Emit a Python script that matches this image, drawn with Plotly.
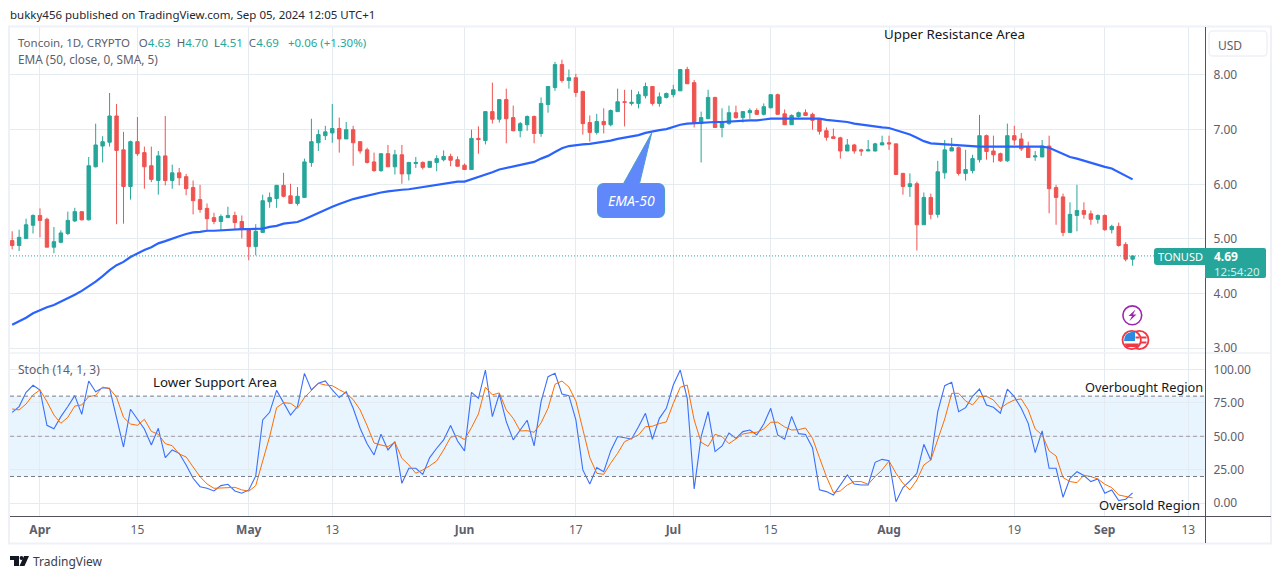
import pandas as pd
import plotly.graph_objects as go

W = 1281
H = 579

dates = pd.date_range('2024-03-28', periods=162, freq='D')

opens = [
    4.97, 4.88, 5.01, 5.25, 5.43, 5.36, 4.85, 4.94, 5.10, 5.33,
    5.50, 5.35, 6.32, 6.70, 6.77, 7.25, 6.63, 5.96, 6.78, 6.58,
    6.34, 6.07, 6.52, 6.07, 6.21, 6.14, 5.94, 5.72, 5.56, 5.39,
    5.32, 5.39, 5.43, 5.32, 5.17, 4.86, 5.12, 5.68, 5.74, 5.98,
    5.79, 5.65, 5.76, 6.40, 6.76, 6.89, 6.94, 7.02, 6.83, 7.00,
    6.78, 6.63, 6.41, 6.25, 6.56, 6.32, 6.54, 6.19, 6.38, 6.40,
    6.31, 6.40, 6.45, 6.51, 6.45, 6.35, 6.27, 6.84, 6.80, 7.33,
    7.19, 7.55, 7.22, 6.98, 7.09, 7.24, 6.93, 7.46, 7.77, 8.19,
    7.90, 7.95, 7.70, 7.13, 6.95, 7.15, 7.09, 7.33, 7.51, 7.48,
    7.48, 7.62, 7.79, 7.48, 7.59, 7.64, 7.71, 8.10, 7.86, 7.11,
    7.20, 7.59, 7.04, 7.11, 7.31, 7.22, 7.31, 7.35, 7.28, 7.40,
    7.64, 7.29, 7.09, 7.24, 7.31, 7.28, 7.20, 6.98, 6.87, 6.85,
    6.61, 6.72, 6.63, 6.61, 6.61, 6.72, 6.76, 6.74, 6.20, 5.96,
    6.01, 5.26, 5.76, 5.45, 6.21, 6.61, 6.67, 6.20, 6.25, 6.45,
    6.89, 6.61, 6.56, 6.43, 6.89, 6.83, 6.67, 6.50, 6.50, 6.70,
    5.94, 5.77, 5.12, 5.43, 5.52, 5.46, 5.36, 5.43, 5.17, 5.23,
    4.90, 4.63,
]
highs = [
    5.14, 5.17, 5.37, 5.45, 5.56, 5.39, 5.22, 5.16, 5.50, 5.57,
    5.50, 6.50, 7.11, 6.88, 7.67, 7.47, 6.96, 6.80, 7.23, 6.69,
    6.69, 6.61, 7.25, 6.36, 6.30, 6.19, 6.07, 5.99, 5.65, 5.48,
    5.45, 5.59, 5.50, 5.43, 5.17, 5.27, 5.81, 5.85, 5.99, 6.21,
    6.01, 5.95, 6.47, 7.20, 7.00, 7.07, 7.47, 7.22, 7.14, 7.07,
    6.78, 6.67, 6.58, 6.56, 6.72, 6.63, 6.72, 6.41, 6.50, 6.42,
    6.42, 6.53, 6.62, 6.56, 6.51, 6.38, 7.00, 7.06, 7.33, 7.86,
    7.56, 7.75, 7.44, 7.14, 7.26, 7.26, 7.59, 7.79, 8.24, 8.28,
    8.10, 8.02, 7.71, 7.26, 7.29, 7.39, 7.37, 7.75, 7.73, 7.73,
    7.70, 7.86, 7.79, 7.68, 7.68, 7.82, 8.11, 8.15, 7.91, 7.33,
    7.73, 7.60, 7.39, 7.44, 7.44, 7.33, 7.39, 7.39, 7.48, 7.64,
    7.66, 7.37, 7.28, 7.33, 7.37, 7.31, 7.20, 7.04, 7.02, 6.87,
    6.83, 6.74, 6.65, 6.81, 6.76, 6.89, 6.89, 6.74, 6.21, 6.20,
    6.05, 5.85, 5.83, 6.43, 6.81, 6.85, 6.69, 6.63, 6.54, 7.27,
    6.91, 6.89, 6.58, 7.11, 7.07, 6.94, 6.78, 6.61, 6.81, 6.89,
    5.99, 5.83, 5.67, 5.99, 5.67, 5.52, 5.45, 5.45, 5.26, 5.30,
    4.94, 4.70,
]
lows = [
    4.81, 4.78, 5.01, 5.10, 5.03, 4.85, 4.74, 4.92, 5.07, 5.31,
    5.34, 5.34, 6.31, 6.40, 6.69, 5.27, 5.28, 5.72, 6.52, 5.92,
    6.04, 5.81, 5.98, 5.92, 5.98, 5.80, 5.45, 5.48, 5.14, 5.27,
    5.16, 5.39, 5.17, 5.01, 4.61, 4.70, 5.12, 5.57, 5.57, 5.76,
    5.65, 5.61, 5.76, 6.32, 6.61, 6.81, 6.76, 6.58, 6.83, 6.34,
    6.56, 6.38, 6.23, 6.23, 6.32, 6.18, 6.01, 6.07, 6.30, 6.27,
    6.31, 6.24, 6.42, 6.33, 6.33, 6.27, 6.27, 6.56, 6.73, 7.11,
    7.13, 6.75, 6.97, 6.86, 6.98, 6.75, 6.87, 7.31, 7.71, 7.86,
    7.75, 7.60, 6.91, 6.78, 6.91, 6.93, 7.06, 7.33, 7.06, 7.44,
    7.39, 7.57, 7.44, 7.42, 7.57, 7.59, 7.71, 7.84, 7.04, 6.40,
    7.20, 7.04, 6.86, 7.09, 7.20, 7.13, 7.20, 7.27, 7.26, 7.39,
    7.28, 7.09, 7.09, 7.22, 7.26, 7.00, 6.91, 6.80, 6.84, 6.47,
    6.61, 6.56, 6.52, 6.61, 6.60, 6.72, 6.63, 6.18, 5.81, 5.77,
    4.79, 5.26, 5.36, 5.39, 6.10, 6.61, 6.16, 6.07, 6.20, 6.40,
    6.45, 6.40, 6.41, 6.41, 6.72, 6.61, 6.49, 6.43, 6.50, 5.47,
    5.26, 5.05, 5.12, 5.14, 5.37, 5.26, 5.28, 5.15, 5.10, 4.86,
    4.59, 4.51,
]
closes = [
    4.88, 5.03, 5.26, 5.43, 5.34, 4.85, 4.95, 5.11, 5.34, 5.50,
    5.35, 6.34, 6.72, 6.78, 7.25, 6.62, 5.96, 6.78, 6.56, 6.32,
    6.09, 6.52, 6.07, 6.21, 6.12, 5.92, 5.70, 5.54, 5.37, 5.32,
    5.41, 5.43, 5.30, 5.17, 4.86, 5.14, 5.70, 5.76, 5.98, 5.78,
    5.65, 5.78, 6.41, 6.78, 6.91, 6.96, 7.02, 6.83, 7.00, 6.76,
    6.61, 6.40, 6.25, 6.56, 6.32, 6.54, 6.19, 6.40, 6.40, 6.31,
    6.42, 6.47, 6.51, 6.44, 6.33, 6.27, 6.84, 6.82, 7.33, 7.19,
    7.55, 7.20, 6.98, 7.11, 7.24, 6.93, 7.48, 7.79, 8.19, 7.90,
    7.95, 7.68, 7.11, 6.95, 7.15, 7.09, 7.35, 7.51, 7.50, 7.50,
    7.64, 7.79, 7.48, 7.60, 7.66, 7.73, 8.10, 7.84, 7.11, 7.22,
    7.59, 7.04, 7.13, 7.31, 7.22, 7.33, 7.35, 7.28, 7.42, 7.64,
    7.28, 7.09, 7.26, 7.31, 7.26, 7.17, 6.97, 6.86, 6.84, 6.61,
    6.72, 6.61, 6.61, 6.63, 6.74, 6.76, 6.74, 6.18, 5.96, 6.01,
    5.26, 5.76, 5.45, 6.23, 6.63, 6.67, 6.20, 6.27, 6.47, 6.89,
    6.60, 6.54, 6.43, 6.89, 6.81, 6.65, 6.49, 6.52, 6.70, 5.92,
    5.76, 5.12, 5.45, 5.52, 5.45, 5.36, 5.43, 5.17, 5.23, 4.88,
    4.63, 4.69,
]
ema_50 = [
    3.43, 3.49, 3.56, 3.64, 3.70, 3.75, 3.79, 3.85, 3.91, 3.98,
    4.05, 4.13, 4.22, 4.32, 4.43, 4.52, 4.58, 4.67, 4.74, 4.80,
    4.85, 4.92, 4.96, 5.01, 5.05, 5.09, 5.12, 5.13, 5.15, 5.15,
    5.16, 5.17, 5.18, 5.18, 5.18, 5.18, 5.19, 5.22, 5.24, 5.28,
    5.29, 5.31, 5.36, 5.42, 5.48, 5.54, 5.59, 5.64, 5.69, 5.73,
    5.76, 5.79, 5.83, 5.85, 5.87, 5.89, 5.90, 5.91, 5.93, 5.96,
    5.98, 6.00, 6.02, 6.03, 6.05, 6.05, 6.09, 6.13, 6.18, 6.22,
    6.27, 6.30, 6.33, 6.36, 6.39, 6.41, 6.47, 6.52, 6.59, 6.66,
    6.70, 6.72, 6.73, 6.74, 6.76, 6.77, 6.80, 6.83, 6.85, 6.87,
    6.90, 6.94, 6.97, 6.99, 7.01, 7.05, 7.09, 7.11, 7.12, 7.12,
    7.13, 7.14, 7.14, 7.15, 7.15, 7.16, 7.17, 7.17, 7.19, 7.20,
    7.20, 7.20, 7.20, 7.20, 7.20, 7.20, 7.20, 7.18, 7.17, 7.16,
    7.14, 7.11, 7.09, 7.07, 7.05, 7.04, 7.03, 6.99, 6.95, 6.91,
    6.85, 6.79, 6.75, 6.74, 6.73, 6.72, 6.71, 6.70, 6.69, 6.69,
    6.69, 6.69, 6.69, 6.69, 6.69, 6.69, 6.69, 6.69, 6.69, 6.67,
    6.61, 6.55, 6.50, 6.47, 6.43, 6.40, 6.36, 6.32, 6.29, 6.22,
    6.15, 6.09,
]
stoch_k = [
    67.9, 72.2, 82.8, 88.1, 84.6, 58.2, 55.7, 64.7, 72.2, 80.4,
    66.4, 91.3, 83.3, 86.3, 85.8, 64.7, 42.0, 70.2, 62.9, 55.5,
    43.5, 56.0, 34.1, 39.8, 37.3, 28.6, 18.7, 12.4, 11.2, 9.2,
    13.2, 14.2, 9.2, 7.5, 10.0, 20.4, 62.2, 67.9, 84.3, 74.6,
    65.9, 72.2, 97.0, 84.6, 89.6, 91.3, 84.6, 78.9, 83.3, 70.9,
    56.0, 44.5, 36.1, 51.5, 39.8, 46.0, 14.9, 26.1, 26.1, 21.6,
    34.1, 41.1, 47.3, 58.0, 46.5, 39.1, 82.8, 78.4, 99.5, 64.7,
    81.6, 61.0, 47.3, 54.7, 62.0, 42.8, 75.9, 94.5, 97.0, 81.6,
    80.4, 62.2, 24.9, 14.4, 26.6, 23.6, 39.1, 49.8, 48.8, 48.0,
    57.2, 67.2, 47.8, 63.4, 70.9, 88.3, 99.5, 78.4, 10.7, 49.8,
    68.4, 38.6, 42.8, 52.5, 48.5, 53.5, 54.7, 51.0, 59.2, 70.9,
    51.0, 47.8, 64.9, 52.0, 51.3, 41.5, 10.0, 8.7, 6.2, 13.7,
    21.1, 14.4, 13.7, 13.7, 30.6, 32.8, 31.8, 1.2, 11.7, 16.7,
    22.4, 44.0, 32.1, 68.4, 87.8, 90.3, 68.4, 71.4, 79.9, 85.3,
    73.4, 71.7, 67.2, 85.3, 79.6, 70.9, 59.7, 37.8, 54.0, 26.1,
    26.1, 4.5, 18.7, 23.6, 20.7, 16.2, 18.2, 7.5, 10.0, 2.0,
    3.0, 7.7,
]
stoch_d = [
    70.4, 69.7, 74.1, 80.9, 84.6, 75.9, 65.9, 59.7, 64.2, 72.6,
    73.4, 79.6, 80.6, 86.8, 85.6, 79.1, 64.2, 59.2, 58.2, 62.7,
    53.7, 51.5, 44.5, 43.0, 36.8, 34.6, 27.1, 19.9, 14.4, 11.2,
    11.4, 11.9, 11.9, 10.0, 9.0, 13.2, 31.1, 49.8, 71.4, 75.1,
    74.6, 70.9, 78.9, 84.6, 89.6, 88.3, 87.8, 84.8, 82.1, 77.4,
    69.7, 58.0, 45.0, 43.5, 42.3, 45.5, 33.6, 28.6, 22.4, 24.9,
    27.9, 31.6, 39.8, 49.3, 50.5, 47.5, 56.5, 66.7, 86.6, 80.9,
    82.4, 69.7, 63.4, 54.0, 54.2, 53.0, 60.0, 70.9, 88.8, 91.3,
    86.8, 76.4, 56.0, 34.1, 22.4, 21.6, 29.9, 37.3, 46.0, 48.5,
    51.0, 57.2, 57.5, 59.5, 60.7, 74.6, 86.6, 88.3, 62.2, 45.5,
    42.5, 51.5, 49.8, 44.5, 48.0, 51.7, 52.7, 53.0, 55.5, 60.5,
    60.5, 57.0, 54.7, 55.0, 56.2, 48.5, 34.1, 19.9, 8.0, 9.2,
    13.7, 16.2, 16.2, 14.2, 19.9, 24.9, 31.6, 22.4, 14.9, 10.0,
    17.4, 28.6, 32.3, 48.5, 62.9, 82.1, 82.1, 76.4, 73.4, 79.6,
    79.9, 77.1, 70.9, 74.6, 77.1, 77.9, 69.7, 55.5, 51.0, 39.1,
    35.3, 19.2, 16.2, 15.4, 20.9, 19.9, 18.2, 14.2, 11.7, 6.2,
    5.0, 4.0,
]
for series in (opens, highs, lows, closes, ema_50, stoch_k, stoch_d):
    assert len(series) == len(dates), len(series)

tick_dates = ['2024-04-01', '2024-04-15', '2024-05-01', '2024-05-13', '2024-06-01', '2024-06-17',
              '2024-07-01', '2024-07-15', '2024-08-01', '2024-08-19', '2024-09-01', '2024-09-13']
tick_names = ['<b>Apr</b>', '15', '<b>May</b>', '13', '<b>Jun</b>', '17',
              '<b>Jul</b>', '15', '<b>Aug</b>', '19', '<b>Sep</b>', '13']
price_ticks = [3, 4, 5, 6, 7, 8]
stoch_ticks = [0, 25, 50, 75, 100]

FONT = 'Noto Sans'
UP = '#26a69a'
DOWN = '#ef5350'
GRID = '#e4ecf2'
FRAME = '#eef1f7'
AXIS = '#50535e'
TEXT = '#131722'
MUTED = '#5d606b'


def px(x):
    return x / W


def py(y):
    return 1 - y / H


def note(text, x, y, size=12, color=TEXT, anchor='left'):
    # annotations carry a small inner padding, so left-aligned text starts 2px late
    if anchor == 'left':
        x = x - 2
    return dict(text=text, x=px(x), y=py(y), xref='paper', yref='paper', xanchor=anchor, yanchor='middle',
                showarrow=False, font=dict(family=FONT, size=size, color=color), align=anchor)


def box(x0, y0, x1, y1, fill='rgba(0,0,0,0)', line=None, width=1):
    return dict(type='rect', xref='paper', yref='paper', x0=px(x0), y0=py(y0), x1=px(x1), y1=py(y1),
                fillcolor=fill, line=dict(color=line, width=width if line else 0))


def dot(cx, cy, r, fill, line, width=1.5):
    return dict(type='circle', xref='paper', yref='paper', x0=px(cx - r), x1=px(cx + r), y0=py(cy - r), y1=py(cy + r),
                fillcolor=fill, line=dict(color=line, width=width))


def outline(points, fill, line=None, width=1):
    parts = []
    for p in points:
        if len(p) == 2:
            parts.append(f'L{px(p[0])},{py(p[1])}')
        else:
            parts.append(f'Q{px(p[0])},{py(p[1])} {px(p[2])},{py(p[3])}')
    path = 'M' + ' '.join(parts)[1:] + ' Z'
    return dict(type='path', xref='paper', yref='paper', path=path, fillcolor=fill,
                line=dict(color=line, width=width if line else 0))


fig = go.Figure()
fig.add_trace(go.Candlestick(x=dates, open=opens, high=highs, low=lows, close=closes,
                             increasing=dict(line=dict(color=UP, width=1), fillcolor=UP),
                             decreasing=dict(line=dict(color=DOWN, width=1), fillcolor=DOWN),
                             whiskerwidth=0, xaxis='x', yaxis='y', showlegend=False))
fig.add_trace(go.Scatter(x=dates, y=ema_50, mode='lines', line=dict(color='#2962ff', width=2.2),
                         xaxis='x', yaxis='y', showlegend=False))
fig.add_trace(go.Scatter(x=dates, y=stoch_k, mode='lines', line=dict(color='#3a70fb', width=1.1),
                         xaxis='x', yaxis='y2', showlegend=False))
fig.add_trace(go.Scatter(x=dates, y=stoch_d, mode='lines', line=dict(color='#ff6d00', width=1),
                         xaxis='x', yaxis='y2', showlegend=False))

shapes = [
    # stochastic band
    dict(type='rect', xref='paper', yref='y2', x0=px(10), x1=px(1205), y0=20, y1=80,
         fillcolor='rgba(33,150,243,0.1)', line=dict(width=0), layer='below'),
    dict(type='line', xref='paper', yref='y2', x0=px(10), x1=px(1205), y0=80, y1=80,
         line=dict(color='#787b86', width=1, dash='4px,3px')),
    dict(type='line', xref='paper', yref='y2', x0=px(10), x1=px(1205), y0=50, y1=50,
         line=dict(color='#9a9ca5', width=1, dash='4px,3px')),
    dict(type='line', xref='paper', yref='y2', x0=px(10), x1=px(1205), y0=20, y1=20,
         line=dict(color='#787b86', width=1, dash='4px,3px')),
    # last price line
    dict(type='line', xref='paper', yref='y', x0=px(10), x1=px(1205), y0=closes[-1], y1=closes[-1],
         line=dict(color=UP, width=1, dash='1px,2px')),
    # frame and separators
    box(9, 26.5, 1271, 543.5, line=FRAME, width=2),
    dict(type='line', xref='paper', yref='paper', x0=px(10), x1=px(1270), y0=py(353), y1=py(353),
         line=dict(color='#e6e9ef', width=1)),
    dict(type='line', xref='paper', yref='paper', x0=px(10), x1=px(1271), y0=py(516.5), y1=py(516.5),
         line=dict(color=AXIS, width=1)),
    dict(type='line', xref='paper', yref='paper', x0=px(1205.5), x1=px(1205.5), y0=py(27), y1=py(543),
         line=dict(color=AXIS, width=1)),
    # USD button
    outline([(1213, 31), (1263, 31), (1267, 31, 1267, 35), (1267, 52), (1267, 56, 1263, 56), (1213, 56),
             (1209, 56, 1209, 52), (1209, 35), (1209, 31, 1213, 31)], 'white', FRAME, 1.5),
    # price tags
    outline([(1157, 248), (1205, 248), (1205, 265), (1157, 265), (1154, 265, 1154, 262), (1154, 251),
             (1154, 248, 1157, 248)], UP),
    outline([(1205, 248), (1264, 248), (1266, 248, 1266, 250), (1266, 276), (1266, 278, 1264, 278), (1205, 278)], UP),
    # EMA-50 callout
    outline([(651.7, 133), (639.5, 183.5), (658, 183.5), (664.5, 183.5, 664.5, 190), (664.5, 211),
             (664.5, 217.5, 658, 217.5), (604, 217.5), (597.5, 217.5, 597.5, 211), (597.5, 190),
             (597.5, 183.5, 604, 183.5), (623.5, 183.5)], '#6088fb', '#4a9fcb', 1),
    # purple bolt badge
    dot(1132.3, 315.3, 9.4, 'white', '#9c27b0', 1.6),
    outline([(1135.5, 309.5), (1128.5, 316), (1132, 316), (1129.5, 321), (1136.5, 314.5), (1133, 314.5)],
            '#9c27b0'),
    # US flag coins
    dot(1139.3, 340, 9.2, 'white', '#f23645', 1.8),
    box(1141, 336.5, 1146.5, 338.5, fill='#f23645'),
    box(1141, 341.5, 1146.5, 343.5, fill='#f23645'),
    dot(1131.7, 340, 9.2, 'white', '#f23645', 1.8),
    outline([(1131.5, 332), (1135, 332), (1135, 341), (1124, 341), (1124, 333, 1131.5, 332)], '#2a8be0'),
    box(1135.5, 336.5, 1139.5, 338.5, fill='#f23645'),
    outline([(1124.5, 343.5), (1139, 343.5), (1137, 347), (1126.5, 347)], '#f23645'),
    # TradingView logo
    outline([(10, 556), (19, 556), (19, 566), (14, 566), (14, 560), (10, 560)], TEXT),
    dot(21.5, 558, 1.9, TEXT, TEXT, 0),
    outline([(24, 556), (29, 556), (24.5, 566), (19.5, 566)], TEXT),
]

green = f'<span style="color:{UP}">'
gray = f'<span style="color:{MUTED}">'
values_line = (f'{gray}Toncoin, 1D, CRYPTO   O</span>{green}{opens[-1]:.2f}</span>'
               f'{gray}  H</span>{green}{highs[-1]:.2f}</span>'
               f'{gray}  L</span>{green}{lows[-1]:.2f}</span>'
               f'{gray}  C</span>{green}{closes[-1]:.2f}   +0.06 (+1.30%)</span>')

annotations = [
    note('bukky456 published on TradingView.com, Sep 05, 2024 12:05 UTC+1', 10, 15, 11.5, '#24272f'),
    note(values_line, 18, 42, 11.5),
    note('EMA (50, close, 0, SMA, 5)', 18, 59, 11.8, MUTED),
    note('Stoch (14, 1, 3)', 18, 369, 12, MUTED),
    note('Upper Resistance Area', 884, 34, 13.3),
    note('Lower Support Area', 153, 382, 13.3),
    note('Overbought Region', 1085, 387, 12.8),
    note('Oversold Region', 1099, 505, 13),
    note('USD', 1218, 45, 12, MUTED),
    note('TONUSD', 1158, 257, 11, 'white'),
    note('<b>4.69</b>', 1214, 256.5, 12, 'white'),
    note('12:54:20', 1214, 271, 11.5, '#d3eeeb'),
    note('<i>EMA-50</i>', 631, 200, 14, 'white', 'center'),
    note('TradingView', 33, 561, 12, '#3b3e47'),
]

fig.update_layout(
    width=W, height=H, margin=dict(l=0, r=0, t=0, b=0, autoexpand=False),
    paper_bgcolor='white', plot_bgcolor='white', showlegend=False,
    font=dict(family=FONT, size=12, color=MUTED),
    shapes=shapes, annotations=annotations,
    xaxis=dict(domain=[px(10), px(1205)], anchor='y2', type='date',
               range=['2024-03-27 16:34', '2024-09-15 09:36'],
               tickmode='array', tickvals=tick_dates, ticktext=tick_names,
               tickfont=dict(size=12, color='#5d606b'), tickangle=0,
               ticks='outside', ticklen=3, tickcolor='rgba(0,0,0,0)',
               showgrid=True, gridcolor=GRID, gridwidth=1, zeroline=False, showline=False,
               rangeslider=dict(visible=False)),
    yaxis=dict(domain=[py(352), py(27)], anchor='x', side='right', range=[2.932, 8.878],
               tickmode='array', tickvals=price_ticks, ticktext=[f'{v:.2f}' for v in price_ticks],
               tickfont=dict(size=12, color=MUTED), ticks='outside', ticklen=5, tickcolor='rgba(0,0,0,0)',
               showgrid=True, gridcolor=GRID, zeroline=False, showline=False),
    yaxis2=dict(domain=[py(516), py(353)], anchor='x', side='right', range=[-9.5, 112.2],
                tickmode='array', tickvals=stoch_ticks, ticktext=[f'{v:.2f}' for v in stoch_ticks],
                tickfont=dict(size=12, color=MUTED), ticks='outside', ticklen=5, tickcolor='rgba(0,0,0,0)',
                showgrid=True, gridcolor=GRID, zeroline=False, showline=False),
)

fig.write_html('out.html', config=dict(displayModeBar=False),
               post_script="document.body.style.margin='0';document.body.style.overflow='hidden';")
